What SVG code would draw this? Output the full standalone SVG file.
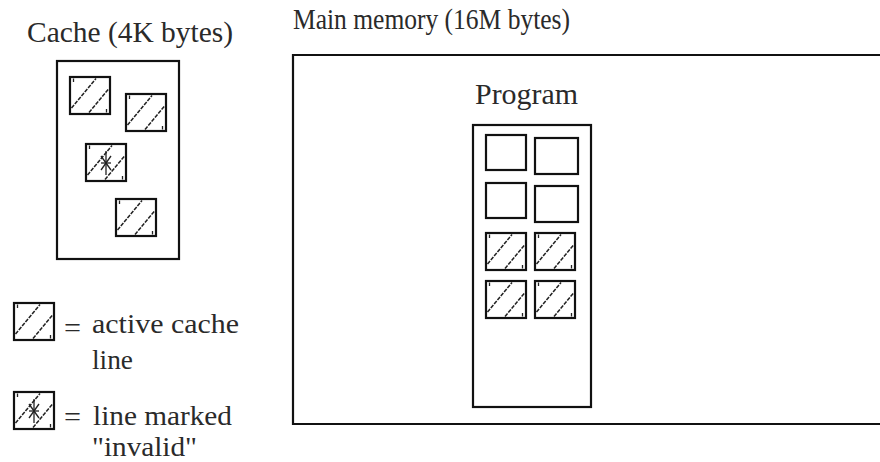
<svg xmlns="http://www.w3.org/2000/svg" width="880" height="462" viewBox="0 0 880 462">
<style>
text{fill:#2a2a2a;font-size:30px}
.lg{font-size:27px}
.box{fill:none;stroke:#111;stroke-width:2.2}
.cell{fill:#fff;stroke:#111;stroke-width:2.2}
.h{stroke:#222;stroke-width:1.5;stroke-dasharray:4 1.2;fill:none}
.t{stroke:#222;stroke-width:1.3;fill:none}
</style>
<defs>
<g id="hatch">
<rect class="cell" x="0" y="0" width="40" height="37"/>
<line class="h" x1="1.5" y1="31" x2="26" y2="1.5"/>
<line class="h" x1="19" y1="35.5" x2="38.5" y2="12"/>
<line class="t" x1="3.5" y1="1.5" x2="3.5" y2="5"/>
<line class="t" x1="36.5" y1="32" x2="36.5" y2="35.5"/>
</g>
<g id="inval">
<use href="#hatch"/>
<line class="t" x1="20" y1="7" x2="20" y2="31"/>
<line class="t" x1="15" y1="12" x2="25" y2="26"/>
<line class="t" x1="25" y1="12" x2="15" y2="26"/>
<line class="t" x1="15" y1="19" x2="25" y2="19"/>
</g>
</defs>

<g font-family="Liberation Serif, Times New Roman, DejaVu Serif, serif">
<g id="cache">
<text x="27" y="42" textLength="206" lengthAdjust="spacingAndGlyphs">Cache (4K bytes)</text>
<rect class="box" x="57" y="61" width="122" height="198"/>
<use href="#hatch" x="70" y="77"/>
<use href="#hatch" x="126" y="94"/>
<use href="#inval" x="86" y="144"/>
<use href="#hatch" x="116" y="199"/>
</g>

<g id="legend">
<use href="#hatch" x="14" y="303"/>
<text class="lg" x="64" y="337" textLength="17" lengthAdjust="spacingAndGlyphs">=</text>
<text class="lg" x="92" y="333" textLength="147" lengthAdjust="spacingAndGlyphs">active cache</text>
<text class="lg" x="92" y="369" textLength="41" lengthAdjust="spacingAndGlyphs">line</text>
<use href="#inval" x="14" y="392"/>
<text class="lg" x="64" y="426" textLength="17" lengthAdjust="spacingAndGlyphs">=</text>
<text class="lg" x="93" y="425" textLength="139" lengthAdjust="spacingAndGlyphs">line marked</text>
<text class="lg" x="92" y="456" textLength="105" lengthAdjust="spacingAndGlyphs">"invalid"</text>
</g>

<g id="main-memory">
<text x="293" y="29" textLength="277" lengthAdjust="spacingAndGlyphs">Main memory (16M bytes)</text>
<path class="box" d="M882,55 H293 V424 H882"/>
</g>

<g id="program">
<text x="475" y="104" textLength="103" lengthAdjust="spacingAndGlyphs">Program</text>
<rect class="box" x="473" y="125" width="118" height="282"/>
<rect class="cell" x="486" y="135" width="40" height="35"/>
<rect class="cell" x="535" y="138" width="43" height="36"/>
<rect class="cell" x="486" y="183" width="40" height="35"/>
<rect class="cell" x="535" y="186" width="43" height="36"/>
<use href="#hatch" x="486" y="233"/>
<use href="#hatch" x="535" y="233"/>
<use href="#hatch" x="486" y="281"/>
<use href="#hatch" x="535" y="281"/>
</g>
</g>

<g id="connectors"></g>
</svg>
